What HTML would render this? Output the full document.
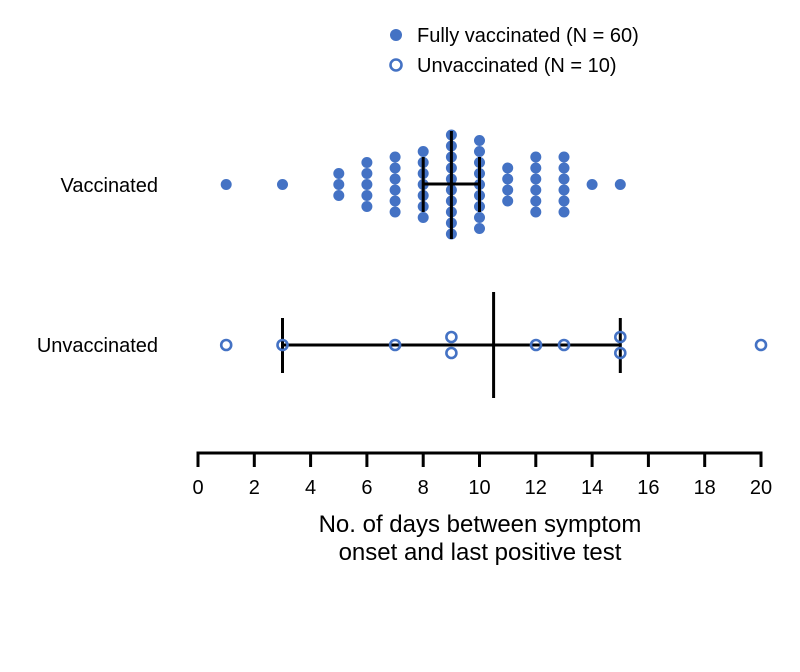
<!DOCTYPE html><html><head><style>body{margin:0;background:#fff}</style></head><body>
<svg width="800" height="667" xmlns="http://www.w3.org/2000/svg" font-family="Liberation Sans, sans-serif">
<rect width="800" height="667" fill="#fff"/>
<circle cx="396" cy="35" r="6" fill="#4472c4"/>
<text x="417" y="42" font-size="20" fill="#000">Fully vaccinated (N = 60)</text>
<circle cx="396" cy="65" r="5.5" fill="none" stroke="#4472c4" stroke-width="2.6"/>
<text x="417" y="72" font-size="20" fill="#000">Unvaccinated (N = 10)</text>
<text x="158" y="192" font-size="20" text-anchor="end">Vaccinated</text>
<text x="158" y="352" font-size="20" text-anchor="end">Unvaccinated</text>
<g fill="#4472c4">
<circle cx="226.2" cy="184.5" r="5.5"/>
<circle cx="282.5" cy="184.5" r="5.5"/>
<circle cx="338.8" cy="173.5" r="5.5"/><circle cx="338.8" cy="184.5" r="5.5"/><circle cx="338.8" cy="195.5" r="5.5"/>
<circle cx="366.9" cy="162.5" r="5.5"/><circle cx="366.9" cy="173.5" r="5.5"/><circle cx="366.9" cy="184.5" r="5.5"/><circle cx="366.9" cy="195.5" r="5.5"/><circle cx="366.9" cy="206.5" r="5.5"/>
<circle cx="395.1" cy="157" r="5.5"/><circle cx="395.1" cy="168" r="5.5"/><circle cx="395.1" cy="179" r="5.5"/><circle cx="395.1" cy="190" r="5.5"/><circle cx="395.1" cy="201" r="5.5"/><circle cx="395.1" cy="212" r="5.5"/>
<circle cx="423.2" cy="151.5" r="5.5"/><circle cx="423.2" cy="162.5" r="5.5"/><circle cx="423.2" cy="173.5" r="5.5"/><circle cx="423.2" cy="184.5" r="5.5"/><circle cx="423.2" cy="195.5" r="5.5"/><circle cx="423.2" cy="206.5" r="5.5"/><circle cx="423.2" cy="217.5" r="5.5"/>
<circle cx="451.4" cy="135" r="5.5"/><circle cx="451.4" cy="146" r="5.5"/><circle cx="451.4" cy="157" r="5.5"/><circle cx="451.4" cy="168" r="5.5"/><circle cx="451.4" cy="179" r="5.5"/><circle cx="451.4" cy="190" r="5.5"/><circle cx="451.4" cy="201" r="5.5"/><circle cx="451.4" cy="212" r="5.5"/><circle cx="451.4" cy="223" r="5.5"/><circle cx="451.4" cy="234" r="5.5"/>
<circle cx="479.5" cy="140.5" r="5.5"/><circle cx="479.5" cy="151.5" r="5.5"/><circle cx="479.5" cy="162.5" r="5.5"/><circle cx="479.5" cy="173.5" r="5.5"/><circle cx="479.5" cy="184.5" r="5.5"/><circle cx="479.5" cy="195.5" r="5.5"/><circle cx="479.5" cy="206.5" r="5.5"/><circle cx="479.5" cy="217.5" r="5.5"/><circle cx="479.5" cy="228.5" r="5.5"/>
<circle cx="507.7" cy="168" r="5.5"/><circle cx="507.7" cy="179" r="5.5"/><circle cx="507.7" cy="190" r="5.5"/><circle cx="507.7" cy="201" r="5.5"/>
<circle cx="535.8" cy="157" r="5.5"/><circle cx="535.8" cy="168" r="5.5"/><circle cx="535.8" cy="179" r="5.5"/><circle cx="535.8" cy="190" r="5.5"/><circle cx="535.8" cy="201" r="5.5"/><circle cx="535.8" cy="212" r="5.5"/>
<circle cx="564" cy="157" r="5.5"/><circle cx="564" cy="168" r="5.5"/><circle cx="564" cy="179" r="5.5"/><circle cx="564" cy="190" r="5.5"/><circle cx="564" cy="201" r="5.5"/><circle cx="564" cy="212" r="5.5"/>
<circle cx="592.1" cy="184.5" r="5.5"/>
<circle cx="620.3" cy="184.5" r="5.5"/>
</g>
<g stroke="#000" stroke-width="3">
<line x1="451.4" y1="131" x2="451.4" y2="239"/>
<line x1="423.2" y1="157" x2="423.2" y2="212"/>
<line x1="479.5" y1="157" x2="479.5" y2="212"/>
<line x1="423.2" y1="184" x2="479.5" y2="184"/>
<line x1="282.5" y1="318" x2="282.5" y2="373"/>
<line x1="620.3" y1="318" x2="620.3" y2="373"/>
<line x1="282.5" y1="345" x2="620.3" y2="345"/>
<line x1="493.6" y1="292" x2="493.6" y2="398"/>
</g>
<g fill="none" stroke="#4472c4" stroke-width="2.6">
<circle cx="226.2" cy="345" r="5"/><circle cx="282.5" cy="345" r="5"/><circle cx="395.1" cy="345" r="5"/>
<circle cx="451.4" cy="337" r="5"/><circle cx="451.4" cy="353" r="5"/><circle cx="536" cy="345" r="5"/>
<circle cx="564" cy="345" r="5"/><circle cx="620.3" cy="337" r="5"/><circle cx="620.3" cy="353" r="5"/>
<circle cx="761" cy="345" r="5"/>
</g>
<g stroke="#000" stroke-width="3">
<line x1="196.5" y1="453" x2="762.5" y2="453"/>
<line x1="198" y1="453" x2="198" y2="467"/>
<line x1="254.3" y1="453" x2="254.3" y2="467"/>
<line x1="310.6" y1="453" x2="310.6" y2="467"/>
<line x1="366.9" y1="453" x2="366.9" y2="467"/>
<line x1="423.2" y1="453" x2="423.2" y2="467"/>
<line x1="479.5" y1="453" x2="479.5" y2="467"/>
<line x1="535.8" y1="453" x2="535.8" y2="467"/>
<line x1="592.1" y1="453" x2="592.1" y2="467"/>
<line x1="648.4" y1="453" x2="648.4" y2="467"/>
<line x1="704.7" y1="453" x2="704.7" y2="467"/>
<line x1="761" y1="453" x2="761" y2="467"/>
</g>
<g font-size="20" text-anchor="middle">
<text x="198" y="494">0</text><text x="254.3" y="494">2</text><text x="310.6" y="494">4</text>
<text x="366.9" y="494">6</text><text x="423.2" y="494">8</text><text x="479.5" y="494">10</text>
<text x="535.8" y="494">12</text><text x="592.1" y="494">14</text><text x="648.4" y="494">16</text>
<text x="704.7" y="494">18</text><text x="761" y="494">20</text>
</g>
<text x="480" y="532" font-size="24" text-anchor="middle">No. of days between symptom</text>
<text x="480" y="560" font-size="24" text-anchor="middle">onset and last positive test</text>
</svg></body></html>
